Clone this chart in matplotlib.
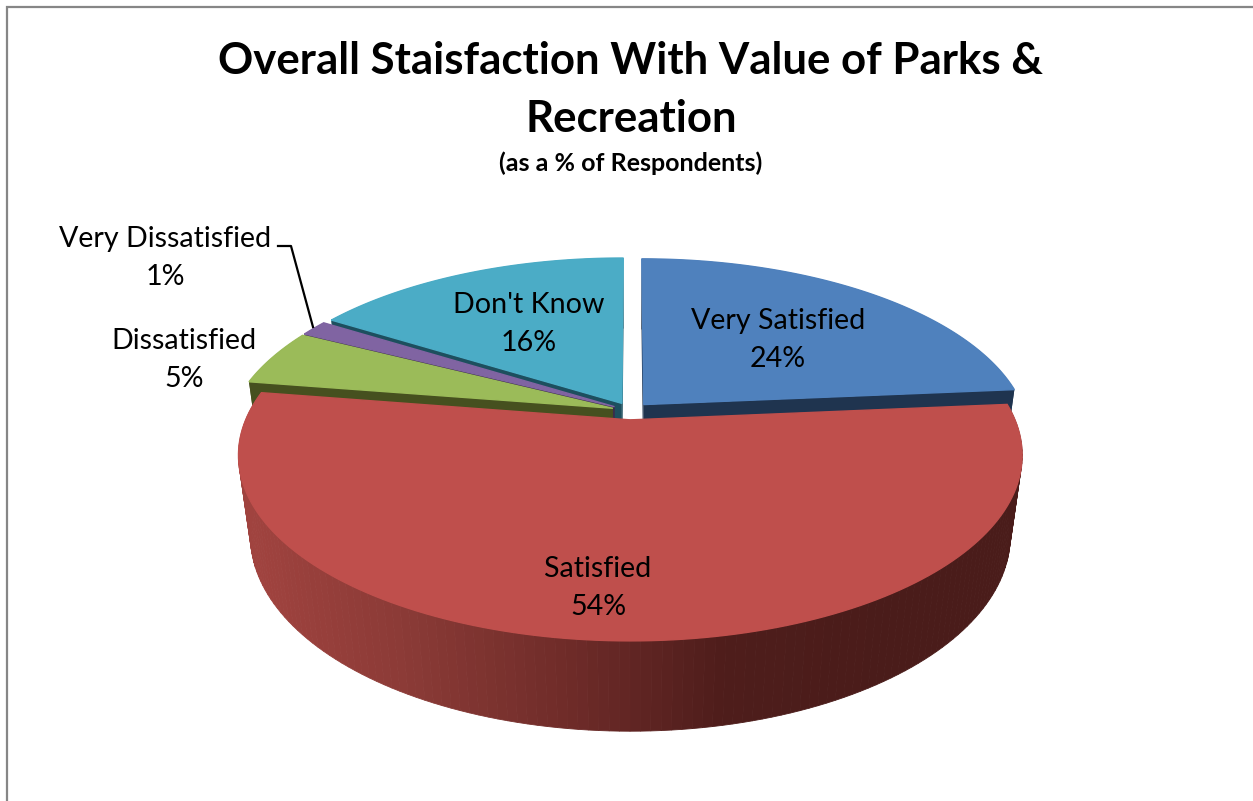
# 3D pie, values
import numpy as np
import matplotlib
matplotlib.use('Agg')
import matplotlib.pyplot as plt
from matplotlib.patches import Polygon
from matplotlib.colors import LinearSegmentedColormap

# --- data ---
categorias = ['Very Satisfied', 'Satisfied', 'Dissatisfied', 'Very Dissatisfied', "Don't Know"]
valores = [23.6, 53.9, 5.0, 1.4, 16.1]
cores_topo = ['#4f81bd', '#bf4f4c', '#9bbb59', '#8064a2', '#4bacc6']
cores_lado = ['#1f344f', '#4a1c1a', '#46501f', '#3a2c4c', '#1d4f5e']
titulo = 'Overall Staisfaction With Value of Parks &\nRecreation'
subtitulo = '(as a % of Respondents)'

# --- geometry of the fake perspective, in pixels ---
W, H = 1253, 801
CX, CY = 631, 411     # centre of the pie before exploding
R = 381
A = 175.5
K = 0.189
M = 0.03
D = 82
EXPLODE = 0.05


def projeta(u, v, z, ox, oy):
    w = 1 + K * (v + oy) + M * z
    x = CX + R * (u + ox) / w
    y = CY - A * (v + oy) / w + D * z / w
    return x, y


def fatia(a0, a1, ox, oy, z=0.0, n=150):
    t = np.radians(np.linspace(a0, a1, n))
    return projeta(np.sin(t), np.cos(t), z, ox, oy)


fig = plt.figure(figsize=(W / 100, H / 100), dpi=100)
ax = fig.add_axes([0, 0, 1, 1])
ax.set_xlim(0, W)
ax.set_ylim(H, 0)
ax.axis('off')

# chart border, only top and left are in the crop
ax.plot([7, 7, W], [H, 7, 7], color='#868686', lw=1.6, solid_joinstyle='miter')

# angles
fim = np.cumsum(valores) / sum(valores) * 360
ini = np.concatenate([[0], fim[:-1]])
meio = (ini + fim) / 2
ox = EXPLODE * np.sin(np.radians(meio))
oy = EXPLODE * np.cos(np.radians(meio))

# back slices first, Satisfied last
ordem = [4, 0, 3, 2, 1]
grad = LinearSegmentedColormap.from_list('lado', ['#a0433f', '#8a3a36', '#6f2c29', '#4e1d1b', '#4a1c1a'])

for i in ordem:
    x0, y0 = projeta(0, 0, 0, ox[i], oy[i])
    x0b, y0b = projeta(0, 0, 1, ox[i], oy[i])
    xt, yt = fatia(ini[i], fim[i], ox[i], oy[i])
    xb, yb = fatia(ini[i], fim[i], ox[i], oy[i], z=1)
    # radial walls
    for k in (0, -1):
        ax.add_patch(Polygon([(x0, y0), (xt[k], yt[k]), (xb[k], yb[k]), (x0b, y0b)],
                             closed=True, fc=cores_lado[i], ec='none'))
    # outer wall
    if i == 1:
        for j in range(len(xt) - 1):
            c = grad(np.clip((xt[j] - 250) / 640, 0, 1))
            ax.add_patch(Polygon([(xt[j], yt[j]), (xt[j + 1], yt[j + 1]), (xb[j + 1], yb[j + 1]), (xb[j], yb[j])],
                                 closed=True, fc=c, ec=c, lw=0.6))
    else:
        ax.add_patch(Polygon(np.r_[np.c_[xt, yt], np.c_[xb, yb][::-1]], closed=True,
                             fc=cores_lado[i], ec='none'))
    # top
    ax.add_patch(Polygon(np.r_[[(x0, y0)], np.c_[xt, yt]], closed=True,
                         fc=cores_topo[i], ec=cores_topo[i], lw=1.0))

# --- text ---
fonte = 'Lato'
ax.text(631, 61, titulo.split('\n')[0], ha='center', va='center', fontsize=31.5, fontweight='bold', family=fonte)
ax.text(631, 119, titulo.split('\n')[1], ha='center', va='center', fontsize=31.5, fontweight='bold', family=fonte)
ax.text(631, 163, subtitulo, ha='center', va='center', fontsize=18, fontweight='bold', family=fonte)

pos_rotulos = [(778, 340), (598, 588), (184, 360), (165, 258), (529, 324)]
for nome, v, (px, py) in zip(categorias, valores, pos_rotulos):
    ax.text(px, py, f'{nome}\n{v:.0f}%', ha='center', va='center', fontsize=20.6, family=fonte, linespacing=1.58)

# leader line of Very Dissatisfied
ax.plot([278, 291, 313], [246, 246, 327], color='black', lw=1.6)

fig.savefig('out.png', dpi=100)
